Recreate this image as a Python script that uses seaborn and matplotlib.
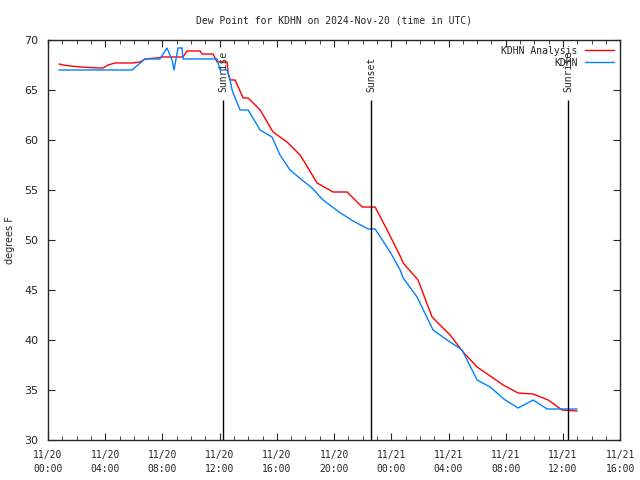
import matplotlib.pyplot as plt
import matplotlib.dates as mdates
import pandas as pd
import seaborn as sns

START = pd.Timestamp('2024-11-20 00:00')

# hours since 2024-11-20 00:00 UTC, dew point in F
analysis_hours = [0.77, 1.05, 1.54, 2.24, 3.50, 3.85, 4.20, 4.69, 5.94, 6.43, 6.78, 7.62, 7.97,
                  8.67, 9.44, 9.72, 10.63, 10.77, 11.54, 11.82, 12.52, 12.59, 12.73, 13.08,
                  13.64, 13.99, 14.83, 15.73, 16.71, 17.62, 17.97, 18.81, 19.93, 20.91, 21.96,
                  22.87, 23.71, 24.62, 24.83, 25.87, 26.85, 28.11, 29.02, 30.00, 31.12, 31.82,
                  32.87, 33.92, 34.97, 35.94, 36.99]
analysis_dewpt = [67.6, 67.5, 67.4, 67.3, 67.2, 67.2, 67.5, 67.7, 67.7, 67.8, 68.1, 68.2, 68.3,
                  68.3, 68.3, 68.9, 68.9, 68.6, 68.6, 67.8, 67.8, 66.7, 66.0, 66.0,
                  64.2, 64.2, 63.0, 60.8, 59.8, 58.5, 57.7, 55.7, 54.8, 54.8, 53.3,
                  53.3, 51.0, 48.4, 47.7, 46.0, 42.3, 40.5, 38.8, 37.3, 36.2, 35.5,
                  34.7, 34.6, 34.0, 33.0, 32.9]

station_hours = [0.77, 5.87, 6.78, 7.83, 8.32, 8.67, 8.81, 9.09, 9.37, 9.44, 11.82, 12.03,
                 12.52, 12.73, 12.87, 13.08, 13.43, 13.99, 14.83, 15.66, 16.22, 16.92, 17.76,
                 18.46, 19.23, 20.35, 21.33, 22.38, 22.87, 23.92, 24.62, 24.83, 25.80, 26.92,
                 27.90, 28.95, 30.00, 30.91, 31.96, 32.87, 33.92, 34.90, 36.99]
station_dewpt = [67.0, 67.0, 68.1, 68.1, 69.2, 68.0, 67.0, 69.2, 69.2, 68.1, 68.1, 67.0,
                 67.0, 66.0, 65.0, 64.2, 63.0, 63.0, 61.0, 60.3, 58.5, 57.0, 56.0,
                 55.2, 54.0, 52.8, 51.9, 51.1, 51.1, 48.8, 47.0, 46.2, 44.3, 41.0,
                 40.0, 39.0, 36.0, 35.3, 34.0, 33.2, 34.0, 33.1, 33.1]

event_names = ['Sunrise', 'Sunset', 'Sunrise']
event_hours = [12.24, 22.59, 36.36]

sns.set_style('ticks')
plt.rcParams['font.family'] = ['DejaVu Sans Mono']


def to_frame(hours, values, name):
    return pd.DataFrame({'time': START + pd.to_timedelta(hours, unit='h'),
                         'dewpt': values, 'series': name})


def main():
    df = pd.concat([to_frame(analysis_hours, analysis_dewpt, 'KDHN Analysis'),
                    to_frame(station_hours, station_dewpt, 'KDHN')])

    fig = plt.figure(figsize=(6.4, 4.8), dpi=100)
    ax = fig.add_axes([0.075, 0.0833, 0.894, 0.8334])

    sns.lineplot(data=df, x='time', y='dewpt', hue='series', estimator=None,
                 palette={'KDHN Analysis': '#ff0000', 'KDHN': '#0080ff'},
                 linewidth=1, ax=ax)

    # sunrise / sunset markers
    for name, h in zip(event_names, event_hours):
        t = START + pd.Timedelta(hours=h)
        ax.vlines(t, 30, 64, color='black', linewidth=1)
        ax.text(t, 64.8, name, rotation=90, ha='center', va='bottom', fontsize=7)

    ax.set_xlim(START, START + pd.Timedelta(hours=40))
    ax.set_ylim(30, 70)
    ax.xaxis.set_major_locator(mdates.HourLocator(byhour=range(0, 24, 4)))
    ax.xaxis.set_minor_locator(mdates.HourLocator())
    ax.xaxis.set_major_formatter(mdates.DateFormatter('%m/%d\n%H:%M'))
    ax.tick_params(which='both', direction='in', top=True, right=True, labelsize=7)
    ax.tick_params(which='major', length=5)
    ax.tick_params(which='minor', length=3)
    ax.tick_params(axis='x', which='major', pad=7)
    ax.tick_params(axis='y', which='major', pad=7)
    for lab in ax.get_xticklabels():
        lab.set_linespacing(1.5)
    for lab in ax.get_yticklabels():
        lab.set_family('DejaVu Sans')
        lab.set_fontsize(8)
    for s in ax.spines.values():
        s.set_linewidth(1)

    ax.set_title('Dew Point for KDHN on 2024-Nov-20 (time in UTC)', fontsize=7, pad=12)
    ax.set_ylabel('degrees F', fontsize=7, family='DejaVu Sans')
    ax.yaxis.set_label_coords(-0.058, 0.5)
    ax.set_xlabel('')
    ax.legend(loc='upper right', frameon=False, markerfirst=False, fontsize=7,
              handlelength=3, borderaxespad=0.2, labelspacing=0.2)

    fig.savefig('out.png')


if __name__ == '__main__':
    main()
